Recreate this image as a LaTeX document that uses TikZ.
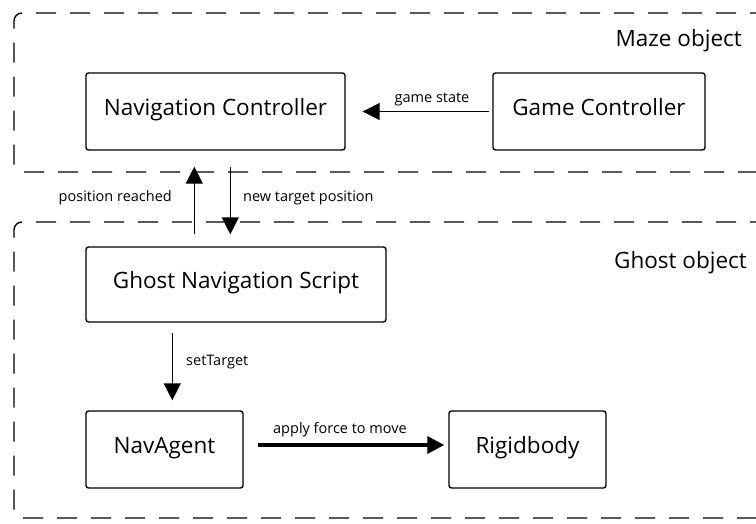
\documentclass[tikz,border=0pt]{standalone}
\usepackage{fontspec}
\setmainfont{Open Sans}
\usetikzlibrary{arrows.meta}
\begin{document}
\begin{tikzpicture}[x=1pt,y=-1pt,
  block/.style={draw, line width=1.4pt, rounded corners=2.5pt, inner sep=0pt,
    font=\fontsize{22.5}{26}\selectfont, text height=0.71em, text depth=0pt},
  group/.style={draw, line width=1.4pt, dash pattern=on 20pt off 14pt, rounded corners=8pt},
  flow/.style={line width=1.4pt, -{Triangle[width=17pt,length=17pt]}},
  bigflow/.style={line width=3.5pt, -{Triangle[width=17pt,length=17pt]}},
  tag/.style={font=\fontsize{14.5}{17}\selectfont, inner sep=0pt},
  grouptag/.style={font=\fontsize{22.5}{26}\selectfont, inner sep=0pt}]
\useasboundingbox (0,0) rectangle (756,523);

% object groups (open to the right)
\draw[group] (770,13) -- (14,13) -- (14,172) -- (770,172);
\draw[group] (770,222) -- (14,222) -- (14,518) -- (770,518);
\node[grouptag, anchor=base east] (mazetag) at (742,46.5) {Maze object};
\node[grouptag, anchor=base east] (ghosttag) at (747,268.5) {Ghost object};

% components
\node[block, minimum width=259pt, minimum height=77pt] (nc) at (215.5,111.5) {Navigation Controller};
\node[block, minimum width=212pt, minimum height=77pt] (gc) at (599,111.5) {Game Controller};
\node[block, minimum width=300pt, minimum height=75pt] (gns) at (236,284.5) {Ghost Navigation Script};
\node[block, minimum width=157pt, minimum height=77pt] (na) at (164.5,449.5) {NavAgent};
\node[block, minimum width=157pt, minimum height=77pt] (rb) at (527.5,449.5) {Rigidbody};

% messages
\draw[flow, shorten <=3pt, shorten >=17pt] (gc.west) -- (nc.east);
\node[tag, anchor=base] (gstag) at (432,102.5) {game state};

\draw[flow, shorten <=12pt, shorten >=16pt]
  ([xshift=109pt]gns.north west) -- ([xshift=109pt]nc.south west);
\node[tag, anchor=base east] (prtag) at (172,201.5) {position reached};

\draw[flow, shorten <=16pt, shorten >=12pt]
  ([xshift=145pt]nc.south west) -- ([xshift=145pt]gns.north west);
\node[tag, anchor=base west] (nttag) at (243,201.5) {new target position};

\draw[flow, shorten <=10pt, shorten >=10pt]
  ([xshift=87pt]gns.south west) -- ([xshift=87pt]na.north west);
\node[tag, anchor=base west] (sttag) at (186,365.5) {setTarget};

\draw[bigflow, shorten <=14pt, shorten >=4pt]
  ([yshift=4.5pt]na.east) -- ([yshift=4.5pt]rb.west);
\node[tag, anchor=base] (aftag) at (340,433) {apply force to move};
\end{tikzpicture}
\end{document}
